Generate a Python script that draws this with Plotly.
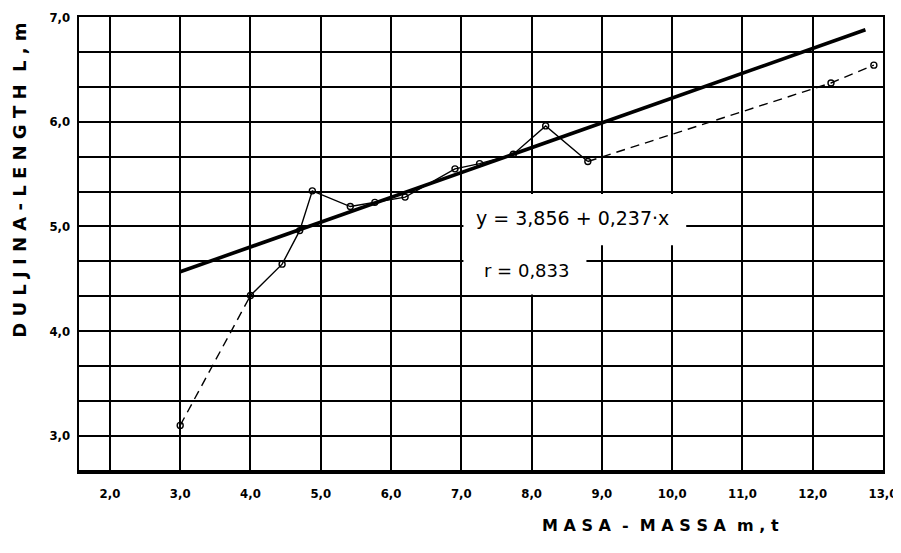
import plotly.graph_objects as go

# ---- data ----
mass_t = [3.0, 4.0, 4.45, 4.70, 4.88, 5.42, 5.77, 6.20, 6.91, 7.26, 7.74, 8.20, 8.80, 12.26, 12.87]
length_m = [3.10, 4.34, 4.64, 4.96, 5.34, 5.19, 5.23, 5.28, 5.55, 5.60, 5.69, 5.96, 5.62, 6.37, 6.54]

reg_intercept = 3.856
reg_slope = 0.237
reg_x_range = [3.0, 12.75]

x_tick_vals = [2, 3, 4, 5, 6, 7, 8, 9, 10, 11, 12, 13]
x_tick_text = ["2,0", "3,0", "4,0", "5,0", "6,0", "7,0", "8,0", "9,0", "10,0", "11,0", "12,0", "13,0"]
y_tick_vals = [3, 4, 5, 6, 7]
y_tick_text = ["3,0", "4,0", "5,0", "6,0", "7,0"]

eq_text = "y = 3,856 + 0,237·x"
r_text = "r = 0,833"
x_title = "M A S A  -  M A S S A  m , t"
y_title = "D U L J I N A - L E N G T H  L , m"

FONT = "DejaVu Sans"
INK = "#000000"

fig = go.Figure()

# thin observed-means line: dashed start, solid middle, dashed tail
segments = [(0, 2, "dash"), (1, 13, "solid"), (12, len(mass_t), "dash")]
for a, b, dash in segments:
    fig.add_trace(go.Scatter(
        x=mass_t[a:b], y=length_m[a:b], mode="lines",
        line=dict(color=INK, width=1.4, dash="solid" if dash == "solid" else "9px,6px"),
        showlegend=False, hoverinfo="skip"))

fig.add_trace(go.Scatter(
    x=mass_t, y=length_m, mode="markers",
    marker=dict(symbol="circle-open", size=6, color=INK, line=dict(width=1.4, color=INK)),
    showlegend=False))

# regression line
reg_y = [reg_intercept + reg_slope * v for v in reg_x_range]
fig.add_trace(go.Scatter(
    x=reg_x_range, y=reg_y, mode="lines",
    line=dict(color=INK, width=3.6), showlegend=False))

# white box behind the equation text (hides grid lines there)
fig.add_shape(type="rect", xref="x", yref="y", x0=7.03, x1=8.78, y0=4.35, y1=5.31,
              fillcolor="white", line=dict(width=0), layer="between")
fig.add_shape(type="rect", xref="x", yref="y", x0=8.7, x1=10.2, y0=4.82, y1=5.31,
              fillcolor="white", line=dict(width=0), layer="between")

fig.add_annotation(x=7.18, y=5.08, xref="x", yref="y", text=eq_text, showarrow=False,
                   xanchor="left", yanchor="middle",
                   font=dict(family=FONT, size=19, color=INK))
fig.add_annotation(x=7.3, y=4.58, xref="x", yref="y", text=r_text, showarrow=False,
                   xanchor="left", yanchor="middle",
                   font=dict(family=FONT, size=18, color=INK))

# axis titles
fig.add_annotation(x=0, y=0.64, xref="paper", yref="paper", xshift=-59, text=y_title,
                   showarrow=False, textangle=-90, xanchor="center", yanchor="middle",
                   font=dict(family=FONT, size=18, color=INK, weight="bold"))
fig.add_annotation(x=0.723, y=0, xref="paper", yref="paper", yshift=-53, text=x_title,
                   showarrow=False, xanchor="center", yanchor="middle",
                   font=dict(family=FONT, size=16, color=INK, weight="bold"))

fig.update_xaxes(
    range=[1.56, 13.0], tickvals=x_tick_vals, ticktext=x_tick_text,
    showgrid=True, gridcolor=INK, gridwidth=1.8, zeroline=False,
    showline=True, linecolor=INK, linewidth=2.4, mirror=True,
    ticks="", ticklabelstandoff=8, automargin=False,
    tickfont=dict(family="DejaVu Sans Condensed", size=13, color=INK, weight="bold"))
fig.update_yaxes(
    range=[2.655, 7.0], tickvals=y_tick_vals, ticktext=y_tick_text,
    showgrid=True, gridcolor=INK, gridwidth=1.8, zeroline=False,
    minor=dict(tick0=3, dtick=1/3, showgrid=True, gridcolor=INK, gridwidth=1.8, ticks=""),
    showline=True, linecolor=INK, linewidth=2.4, mirror=True,
    ticks="", ticklabelstandoff=4, automargin=False,
    tickfont=dict(family="DejaVu Sans Condensed", size=13, color=INK, weight="bold"))

# the page body adds an 8px offset; compensate so the plot lands where the reference has it
fig.update_layout(
    width=905, height=545,
    margin=dict(l=71, r=30, t=9, b=81, autoexpand=False),
    paper_bgcolor="white", plot_bgcolor="white",
    showlegend=False)

fig.write_html("out.html")
